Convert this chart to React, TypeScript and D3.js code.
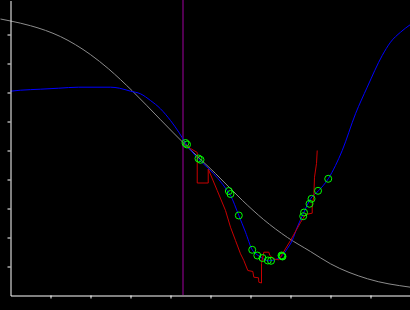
import React from "react";
import * as d3 from "d3";

// x/y in data units (x: 0..10, y: 0..~10.17)
const grayX = [-0.25, 0, 0.5, 0.875, 1.25, 1.625, 2.0, 2.45, 3.05, 3.75, 4.4, 5.125, 5.8, 6.325, 6.925, 7.5, 8.0, 8.925, 10];
const grayY = [9.534, 9.466, 9.303, 9.141, 8.928, 8.648, 8.307, 7.817, 7.048, 6.062, 5.155, 4.207, 3.276, 2.621, 2.0, 1.517, 1.093, 0.576, 0.286];

const blueX = [0, 0.25, 0.75, 1.2, 1.7, 2.5, 2.725, 3.0, 3.25, 3.5, 3.75, 4.0, 4.208, 4.375, 4.708, 4.958, 5.418, 5.5, 5.708, 5.875, 6.043, 6.168, 6.293, 6.45, 6.625, 6.793, 6.918, 7.043, 7.168, 7.318, 7.5, 7.708, 7.943, 8.125, 8.293, 8.625, 8.918, 9.293, 9.5, 9.75, 10];
const blueY = [7.045, 7.079, 7.114, 7.148, 7.183, 7.183, 7.148, 7.045, 6.955, 6.724, 6.438, 6.034, 5.631, 5.259, 4.69, 4.369, 3.621, 3.448, 2.759, 2.183, 1.576, 1.403, 1.286, 1.197, 1.241, 1.379, 1.61, 1.897, 2.355, 2.817, 3.334, 3.621, 4.024, 4.483, 5.0, 6.266, 7.183, 8.276, 8.734, 9.079, 9.345];

const redX = [4.4, 4.5, 4.668, 4.668, 4.943, 4.943, 5.168, 5.375, 5.5, 5.625, 5.75, 5.833, 5.933, 6.058, 6.083, 6.2, 6.208, 6.275, 6.275, 6.333, 6.458, 6.483, 6.583, 6.708, 7.0, 7.25, 7.375, 7.543, 7.543, 7.583, 7.6, 7.65, 7.668];
const redY = [5.207, 5.069, 4.931, 3.879, 3.879, 4.362, 3.621, 2.931, 2.355, 1.897, 1.438, 1.207, 0.862, 0.828, 0.631, 0.61, 0.459, 0.431, 1.103, 1.493, 1.493, 1.379, 1.259, 1.231, 1.897, 2.517, 2.793, 2.838, 3.162, 3.39, 4.079, 4.552, 5.0];

const ptX = [4.375, 4.413, 4.7, 4.75, 5.458, 5.5, 5.708, 6.043, 6.17, 6.3, 6.433, 6.513, 6.775, 6.79, 6.8, 7.318, 7.338, 7.475, 7.525, 7.688, 7.943];
const ptY = [5.259, 5.207, 4.724, 4.679, 3.603, 3.5, 2.759, 1.576, 1.379, 1.293, 1.207, 1.197, 1.38, 1.36, 1.345, 2.734, 2.862, 3.162, 3.334, 3.61, 4.024];

const markerX = 4.3125;
const xTicks = [1, 2, 3, 4, 5, 6, 7, 8, 9];
const yTicks = [1, 2, 3, 4, 5, 6, 7, 8, 9];

const W = 410;
const H = 310;

export default function App() {
  const x = d3.scaleLinear().domain([0, 10]).range([10.5, 410.5]);
  const y = d3.scaleLinear().domain([0, 295 / 29]).range([295.5, 0.5]);

  const zip = (xs: number[], ys: number[]) => xs.map((v, i) => [v, ys[i]] as [number, number]);
  const smooth = d3.line<[number, number]>().x(d => x(d[0])).y(d => y(d[1])).curve(d3.curveMonotoneX);
  const straight = d3.line<[number, number]>().x(d => x(d[0])).y(d => y(d[1]));

  const axisRef = React.useRef<SVGGElement>(null);
  const axisRefB = React.useRef<SVGGElement>(null);
  React.useEffect(() => {
    const gl = d3.select(axisRef.current!);
    gl.call(d3.axisLeft(y).tickValues(yTicks).tickSize(3).tickSizeOuter(0).tickFormat(() => ""));
    gl.selectAll("path,line").attr("stroke", "#fff");
    const gb = d3.select(axisRefB.current!);
    gb.call(d3.axisBottom(x).tickValues(xTicks).tickSize(3).tickSizeOuter(0).tickFormat(() => ""));
    gb.selectAll("path,line").attr("stroke", "#fff");
  }, []);

  return (
    <svg width={W} height={H} style={{ position: "absolute", left: 0, top: 0, background: "#000" }}>
      <rect x={0} y={0} width={W} height={H} fill="#000" />
      <path d={smooth(zip(grayX, grayY))!} fill="none" stroke="#8c8c8c" strokeWidth={1} />
      <line x1={x(markerX)} x2={x(markerX)} y1={0} y2={295} stroke="#a000a0" strokeWidth={1} />
      <path d={smooth(zip(blueX, blueY))!} fill="none" stroke="#0000ff" strokeWidth={1} />
      <path d={straight(zip(redX, redY))!} fill="none" stroke="#c80000" strokeWidth={1} />
      {ptX.map((v, i) => (
        <circle key={i} cx={x(v)} cy={y(ptY[i])} r={3.5} fill="none" stroke="#00ff00" strokeWidth={1} />
      ))}
      <g ref={axisRef} transform="translate(10.5,0)" />
      <g ref={axisRefB} transform="translate(0,295.5)" />
    </svg>
  );
}
